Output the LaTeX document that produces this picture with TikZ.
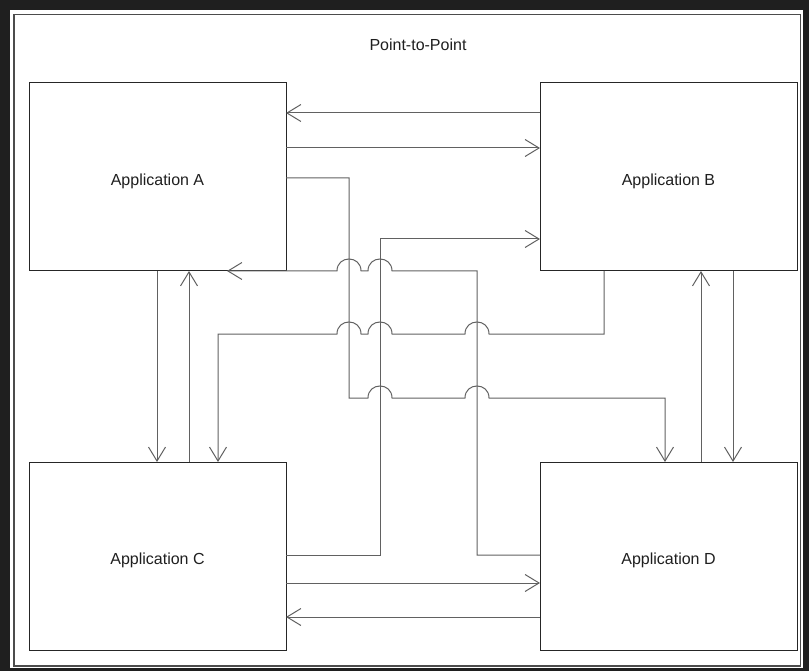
\documentclass[tikz,border=0pt]{standalone}
\usepackage{fontspec}
\setmainfont{Liberation Sans}
\usetikzlibrary{arrows.meta}
\newcommand{\lowertext}[1]{\raisebox{-4pt}[\height][\depth]{#1}}
\begin{document}
\begin{tikzpicture}[x=1pt,y=-1pt,
  app/.style={draw=black!85, line width=1pt, minimum width=257pt, minimum height=188pt,
    inner sep=0pt, outer sep=0pt, font=\fontsize{16}{19}\selectfont, text=black!88},
  conn/.style={draw=black!62, line width=1pt,
    -{Straight Barb[length=14pt,width=17pt,line width=1pt]}},
  titletext/.style={font=\fontsize{16}{19}\selectfont, text=black!88},
]
\useasboundingbox (0,0) rectangle (809,671);
% frame
\fill[black!88] (0,0) rectangle (809,671);
\fill[white] (10,10) rectangle (803,668);
\draw[black!70, line width=1.5pt] (14,14.5) rectangle (800.5,666);

\node[titletext] (title) at (418,45) {Point-to-Point};

\node[app] (A) at (157.5,177) {\lowertext{Application A}};
\node[app] (B) at (668.5,177) {\lowertext{Application B}};
\node[app] (C) at (157.5,556) {\lowertext{Application C}};
\node[app] (D) at (668.5,556) {\lowertext{Application D}};

% A <-> B
\draw[conn] (B.west |- 0,113) -- (A.east |- 0,113);
\draw[conn] (A.east |- 0,148) -- (B.west |- 0,148);
% A <-> C
\draw[conn] (157,0 |- A.south) -- (157,0 |- C.north);
\draw[conn] (189,0 |- C.north) -- (189,0 |- A.south);
% B <-> D
\draw[conn] (701,0 |- D.north) -- (701,0 |- B.south);
\draw[conn] (733,0 |- B.south) -- (733,0 |- D.north);
% C <-> D
\draw[conn] (C.east |- 0,583) -- (D.west |- 0,583);
\draw[conn] (D.west |- 0,617) -- (C.east |- 0,617);

% C -> B
\draw[conn] (C.east |- 0,555) -- (380,555) -- (380,239) -- (B.west |- 0,239);
% A -> D
\draw[conn] (A.east |- 0,178) -- (349,178) -- (349,398) -- (368,398)
  .. controls (368,382) and (392,382) .. (392,398) -- (465,398)
  .. controls (465,382) and (489,382) .. (489,398) -- (665,398) -- (665,0 |- D.north);
% B -> C
\draw[conn] (604,0 |- B.south) -- (604,334) -- (489,334)
  .. controls (489,318) and (465,318) .. (465,334) -- (392,334)
  .. controls (392,318) and (368,318) .. (368,334) -- (361,334)
  .. controls (361,318) and (337,318) .. (337,334) -- (218,334) -- (218,0 |- C.north);
% D -> A
\draw[conn] (D.west |- 0,555) -- (477,555) -- (477,271) -- (392,271)
  .. controls (392,255) and (368,255) .. (368,271) -- (361,271)
  .. controls (361,255) and (337,255) .. (337,271) -- (227,0 |- A.south);
\end{tikzpicture}
\end{document}
